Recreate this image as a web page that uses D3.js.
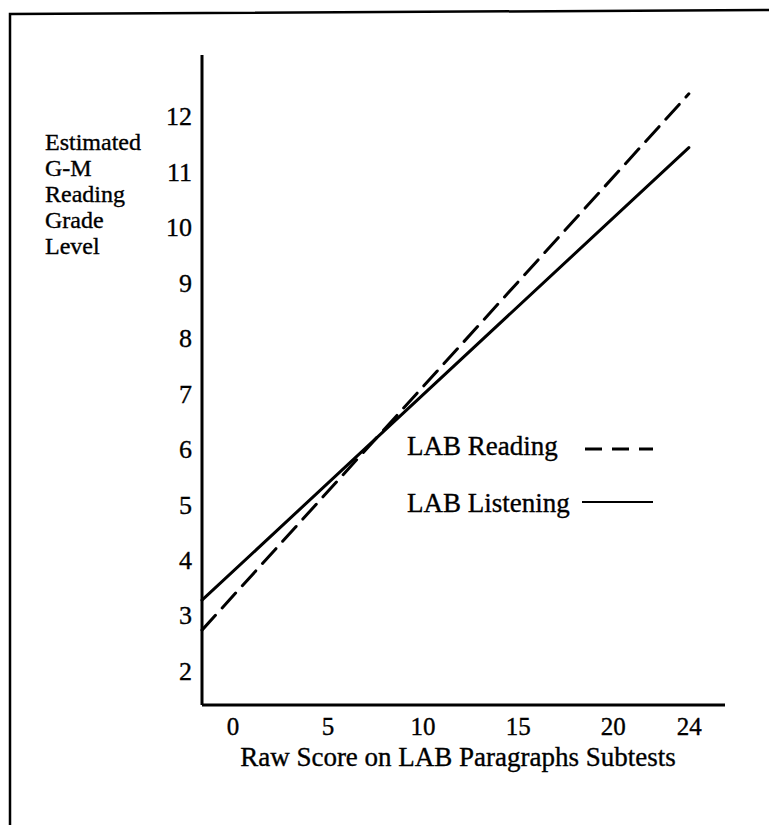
<!DOCTYPE html>
<html>
<head>
<title>LAB Paragraphs vs G-M Reading Grade</title>
<script src="https://d3js.org/d3.v7.min.js"></script>
<style>
  body { margin: 0; background: #fff; }
  svg text { font-family: "Liberation Serif", "Times New Roman", serif; fill: #000; stroke: #000; stroke-width: 0.35; }
  .line { fill: none; stroke: #000; stroke-width: 3; stroke-linecap: round; }
</style>
</head>
<body>
<svg id="chart"></svg>
<script>
// data
var xTicks = [0, 5, 10, 15, 20, 24];
var yTicks = [2, 3, 4, 5, 6, 7, 8, 9, 10, 11, 12];
var seriesNames = ["LAB Reading", "LAB Listening"];
var rawScore = [-1.6, 24];
var readingGrade = [2.73, 12.4];
var listeningGrade = [3.27, 11.43];
var yLabelLines = ["Estimated", "G-M", "Reading", "Grade", "Level"];
var xTitle = "Raw Score on LAB Paragraphs Subtests";

var w = 769, h = 825;

var svg = d3.select("#chart")
    .attr("width", w)
    .attr("height", h);

// page frame (scan border, open at right and bottom)
svg.append("path")
    .attr("d", "M10,825 L10,14 L769,10")
    .attr("fill", "none")
    .attr("stroke", "#000")
    .attr("stroke-width", 2.5);

var x = d3.scaleLinear()
    .domain([-1.6, 25.9])
    .range([202, 725]);

var y = d3.scaleLinear()
    .domain([1.38, 13.1])
    .range([705, 55]);

// axes - plain lines, no tick marks
var yAxis = svg.append("g")
    .attr("transform", "translate(" + x(-1.6) + ",0)")
    .call(d3.axisLeft(y).tickValues(yTicks).tickSize(0).tickPadding(10));
yAxis.select(".domain").attr("stroke-width", 3).attr("d", "M0," + y(1.38) + "V" + y(13.1));
yAxis.selectAll("text")
    .attr("font-size", 26)
    .attr("font-family", "Liberation Serif")
    .attr("dy", "0.34em");

var xAxis = svg.append("g")
    .attr("transform", "translate(0," + y(1.38) + ")")
    .call(d3.axisBottom(x).tickValues(xTicks).tickSize(0).tickPadding(12));
xAxis.select(".domain").attr("stroke-width", 3).attr("d", "M" + x(-1.6) + ",0H" + x(25.9));
xAxis.selectAll("text")
    .attr("font-size", 25)
    .attr("font-family", "Liberation Serif");

// lines
var valueline = d3.line()
    .x(function(d) { return x(d.key); })
    .y(function(d) { return y(d.value); });

var reading = rawScore.map(function(k, i) { return {key: k, value: readingGrade[i]}; });
var listening = rawScore.map(function(k, i) { return {key: k, value: listeningGrade[i]}; });

svg.append("path")
    .datum(reading)
    .attr("class", "line")
    .attr("stroke-dasharray", "20,10")
    .attr("stroke-linecap", "butt")
    .attr("d", valueline);

svg.append("path")
    .datum(listening)
    .attr("class", "line")
    .attr("d", valueline);

// y label, stacked words
svg.append("text")
    .attr("font-size", 24)
    .selectAll("tspan")
    .data(yLabelLines)
    .enter().append("tspan")
    .attr("x", 45)
    .attr("y", function(d, i) { return 150 + i * 26; })
    .text(function(d) { return d; });

// x title
svg.append("text")
    .attr("x", 458)
    .attr("y", 766)
    .attr("text-anchor", "middle")
    .attr("font-size", 27)
    .text(xTitle);

// legend
var legend = svg.append("g");
legend.selectAll("text")
    .data(seriesNames)
    .enter().append("text")
    .attr("x", 407)
    .attr("y", function(d, i) { return 455 + i * 57; })
    .attr("font-size", 27)
    .text(function(d) { return d; });

legend.append("line")
    .attr("x1", 585).attr("x2", 653)
    .attr("y1", 449).attr("y2", 449)
    .attr("stroke", "#000")
    .attr("stroke-width", 3)
    .attr("stroke-dasharray", "17,10");

legend.append("line")
    .attr("x1", 582).attr("x2", 653)
    .attr("y1", 502).attr("y2", 502)
    .attr("stroke", "#000")
    .attr("stroke-width", 2);
</script>
</body>
</html>
